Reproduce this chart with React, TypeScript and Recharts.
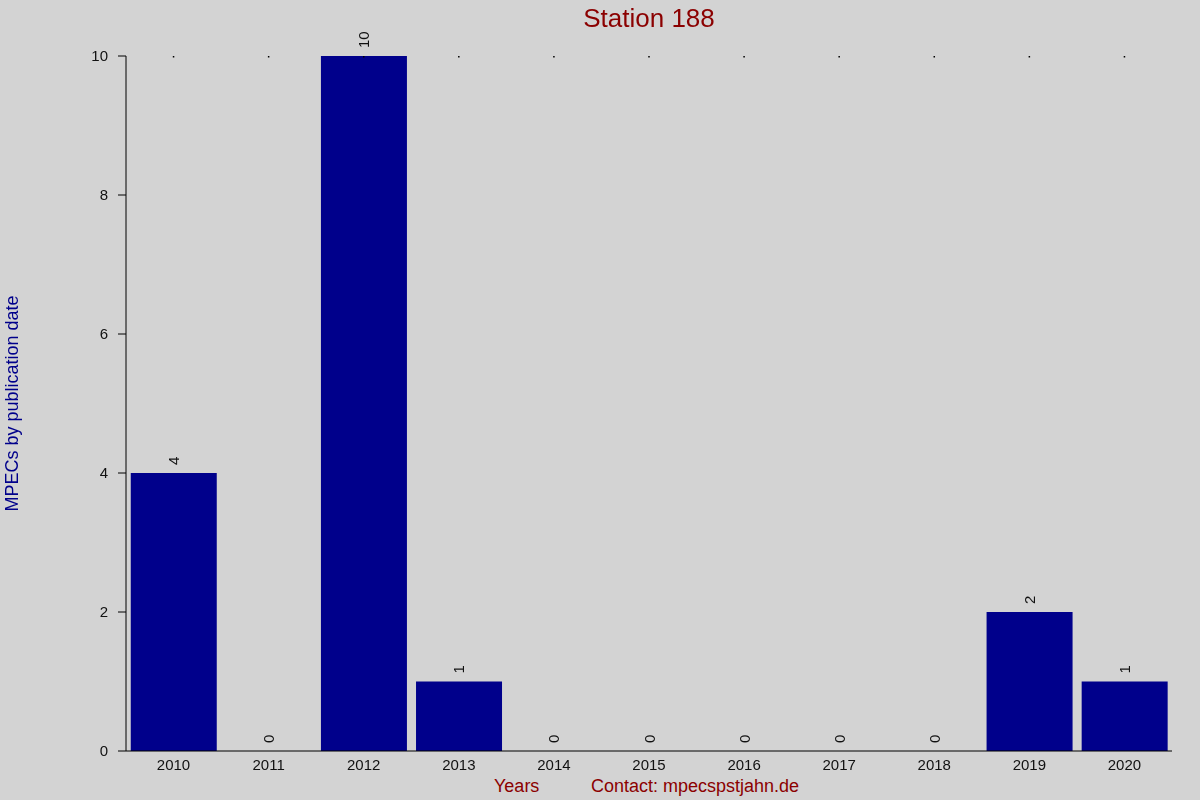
import React from "react";
import { ComposedChart, Bar, Line, XAxis, YAxis } from "recharts";

const years = ["2010", "2011", "2012", "2013", "2014", "2015", "2016", "2017", "2018", "2019", "2020"];
const counts = [4, 0, 10, 1, 0, 0, 0, 0, 0, 2, 1];
const yTicks = [0, 2, 4, 6, 8, 10];

const data = years.map((y, i) => ({ year: y, count: counts[i] }));

const FONT = "'Liberation Sans', Arial, sans-serif";

const RotLabel = (props: any) => {
  const { x, y, value } = props;
  const cx = Number(x);
  const cy = Number(y) - 8;
  return (
    <text
      x={cx}
      y={cy}
      transform={`rotate(-90, ${cx}, ${cy})`}
      textAnchor="start"
      dominantBaseline="central"
      fontSize={15}
      fontFamily={FONT}
      fill="#111"
    >
      {String(value)}
    </text>
  );
};

const TopDot = (props: any) => {
  const { x } = props;
  return <rect x={Number(x) - 0.75} y={56} width={1.5} height={1.5} fill="#000" />;
};

export default function App() {
  return (
    <div
      style={{
        position: "fixed",
        left: 0,
        top: 0,
        width: 1200,
        height: 800,
        background: "#d3d3d3",
        fontFamily: FONT,
      }}
    >
      <div
        style={{
          position: "absolute",
          left: 0,
          width: 1298,
          top: 2,
          textAlign: "center",
          fontSize: 26,
          color: "#8b0000",
          lineHeight: "32px",
        }}
      >
        Station 188
      </div>
      <div
        style={{
          position: "absolute",
          left: 494,
          top: 775,
          fontSize: 18,
          color: "#8b0000",
          lineHeight: "22px",
          whiteSpace: "pre",
        }}
      >
        Years
      </div>
      <div
        style={{
          position: "absolute",
          left: 591,
          top: 775,
          fontSize: 18,
          color: "#8b0000",
          lineHeight: "22px",
          whiteSpace: "pre",
        }}
      >
        Contact: mpecspstjahn.de
      </div>
      <div style={{ position: "absolute", left: 0, top: 0 }}>
        <ComposedChart
          width={1200}
          height={800}
          data={data}
          margin={{ top: 55, right: 28, bottom: 19, left: 0 }}
          barCategoryGap="5%"
        >
          <XAxis
            xAxisId="top"
            dataKey="year"
            orientation="top"
            height={1}
            axisLine={false}
            tickLine={false}
            tickSize={0}
            tickMargin={0}
            tick={TopDot}
            interval={0}
          />
          <XAxis
            dataKey="year"
            height={30}
            stroke="#000"
            axisLine={{ stroke: "#000" }}
            tickLine={false}
            tickSize={6}
            tickMargin={2}
            interval={0}
            tick={{ fill: "#111", fontSize: 15, fontFamily: FONT }}
          />
          <YAxis
            width={126}
            domain={[0, 10]}
            ticks={yTicks}
            stroke="#000"
            axisLine={{ stroke: "#000" }}
            tickLine={{ stroke: "#000" }}
            tickSize={8}
            tickMargin={10}
            tick={{ fill: "#111", fontSize: 15, fontFamily: FONT }}
            label={{
              value: "MPECs by publication date",
              angle: -90,
              position: "insideLeft",
              style: { fill: "#00008b", fontSize: 18, fontFamily: FONT, textAnchor: "middle" },
              offset: 12,
            }}
          />
          <Bar dataKey="count" fill="#00008b" isAnimationActive={false} />
          <Line
            dataKey="count"
            stroke="none"
            dot={false}
            activeDot={false}
            legendType="none"
            isAnimationActive={false}
            label={RotLabel}
          />
        </ComposedChart>
      </div>
    </div>
  );
}
